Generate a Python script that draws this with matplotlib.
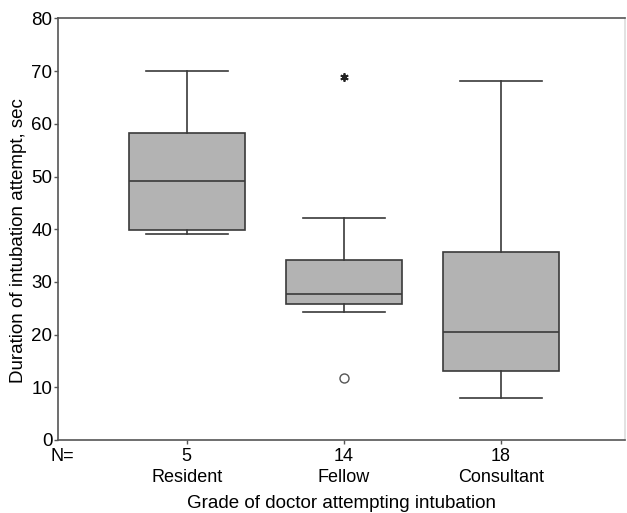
import matplotlib.pyplot as plt

plt.rcParams['font.family'] = ['Liberation Sans', 'DejaVu Sans']

# data
groups = ['Resident', 'Fellow', 'Consultant']
n_counts = [5, 14, 18]
whislo = [39.1, 24.2, 7.9]
q1 = [39.9, 25.9, 13.0]
med = [49.1, 27.7, 20.4]
q3 = [58.2, 34.1, 35.7]
whishi = [70.0, 42.1, 68.2]
extreme = [[], [68.9], []]   # drawn as *
outlier = [[], [11.7], []]   # drawn as o

stats = []
for i in range(len(groups)):
    stats.append(dict(label=groups[i], whislo=whislo[i], q1=q1[i], med=med[i],
                      q3=q3[i], whishi=whishi[i], fliers=[]))

fig = plt.figure(figsize=(6.27, 5.13), dpi=100)
ax = fig.add_axes([58/627, 1 - 440/513, (625-58)/627, (440-18.4)/513])

lc = '#3a3a3a'
pos = [1, 2, 3]
ax.bxp(stats, positions=pos, widths=0.735, patch_artist=True, showfliers=False,
       boxprops=dict(facecolor='#b3b3b3', edgecolor=lc, linewidth=1.2),
       medianprops=dict(color=lc, linewidth=1.2),
       whiskerprops=dict(color=lc, linewidth=1.2),
       capprops=dict(color=lc, linewidth=1.2), capwidths=0.52)

for i in range(len(groups)):
    for v in extreme[i]:
        ax.plot(pos[i], v, marker=(6, 2, 0), ms=6, color='#222222', mew=1.3, ls='none')
    for v in outlier[i]:
        ax.plot(pos[i], v, marker='o', ms=6.5, mfc='none', mec='#555555', mew=1.0, ls='none')

ax.set_xlim(0.18, 3.79)
ax.set_ylim(0, 80)
ax.set_yticks(range(0, 81, 10))
ax.set_xticks(pos)
ax.set_xticklabels(['%d\n%s' % (n_counts[i], groups[i]) for i in range(len(groups))],
                   fontsize=13, linespacing=1.25)
ax.tick_params(axis='y', labelsize=13.5, length=3, width=1, color='#555555', pad=1)
ax.tick_params(axis='x', length=3, width=1, color='#555555', pad=3)

for s in ax.spines.values():
    s.set_color('#555555')
    s.set_linewidth(1.2)
ax.spines['right'].set_color('#dddddd')

ax.text(0.007, -0.038, 'N=', transform=ax.transAxes, ha='center', va='center', fontsize=13)
ax.set_ylabel('Duration of intubation attempt, sec', fontsize=13.5)
ax.yaxis.set_label_coords(-0.054, 0.472)
ax.set_xlabel('Grade of doctor attempting intubation', fontsize=13.5, labelpad=6.5)

plt.savefig('out.png', dpi=100)
